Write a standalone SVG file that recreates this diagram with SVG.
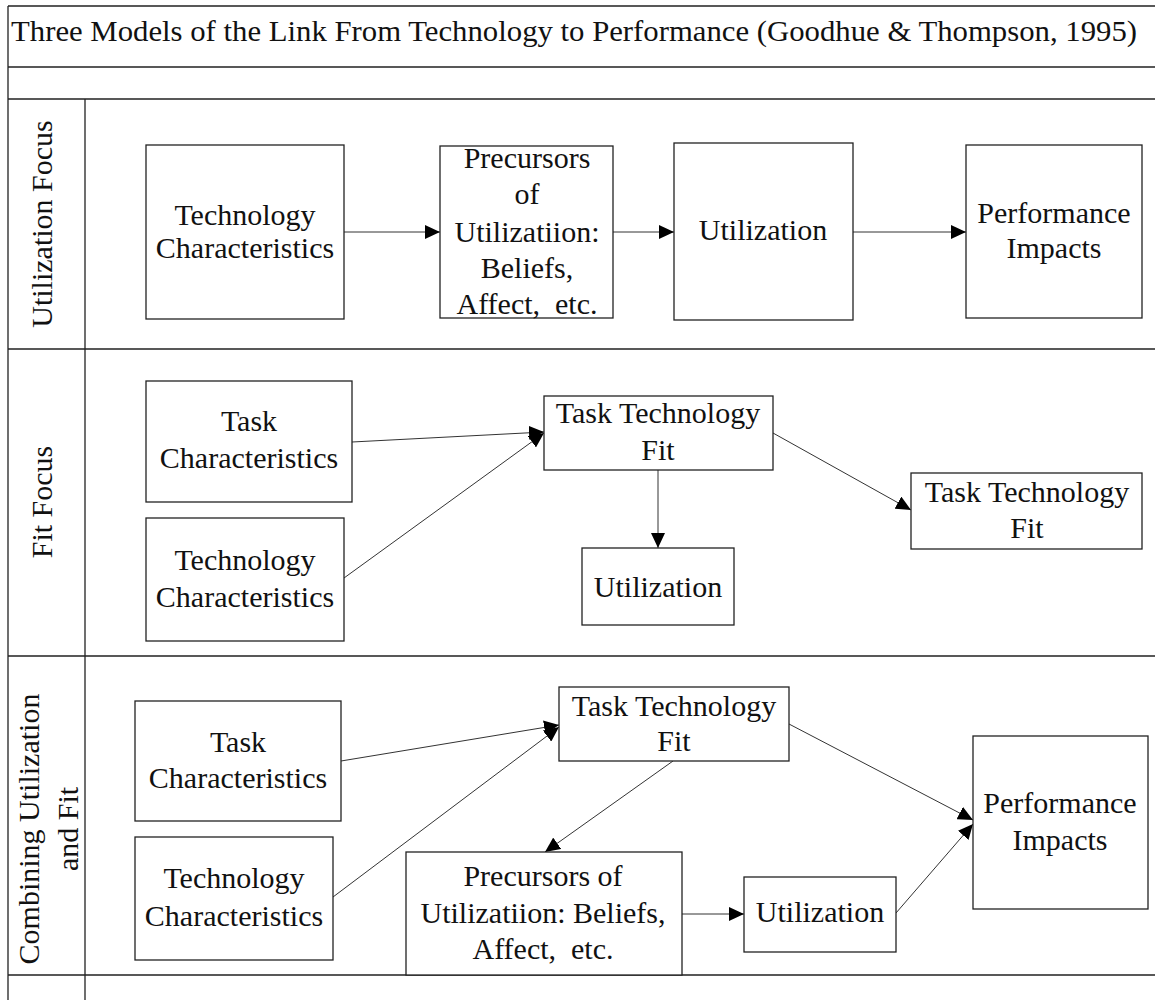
<svg xmlns="http://www.w3.org/2000/svg" width="1155" height="1000" viewBox="0 0 1155 1000">
  <style>
    .grid { stroke: #222; stroke-width: 1.3; fill: none; }
    .box { fill: #fff; stroke: #222; stroke-width: 1.3; }
    .lbl { font-family: "Liberation Serif", "Times New Roman", serif; font-size: 30px; fill: #111; text-anchor: middle; }
    .title { font-family: "Liberation Serif", "Times New Roman", serif; font-size: 29px; fill: #111; }
    .edge { stroke: #333; stroke-width: 1; fill: none; marker-end: url(#arr); }
  </style>
  <defs>
    <marker id="arr" markerUnits="userSpaceOnUse" markerWidth="16" markerHeight="14" refX="15" refY="7" orient="auto">
      <path d="M0,0 L15,7 L0,14 Z" fill="#000"/>
    </marker>
  </defs>
  <rect width="1155" height="1000" fill="#fff"/>

  <!-- table frame -->
  <g id="table">
    <path class="grid" d="M8,6 H1155 M8,67 H1155 M8,99 H1155 M8,349 H1155 M8,656 H1155 M8,975 H1155 M8,6 V1000 M85,99 V1000"/>
    <text class="title" x="11" y="41" textLength="1126" lengthAdjust="spacingAndGlyphs">Three Models of the Link From Technology to Performance (Goodhue &amp; Thompson, 1995)</text>
    <text class="lbl" transform="translate(52,224) rotate(-90)">Utilization Focus</text>
    <text class="lbl" transform="translate(52,502) rotate(-90)">Fit Focus</text>
    <text class="lbl" transform="translate(39,829) rotate(-90)">Combining Utilization</text>
    <text class="lbl" transform="translate(78,829) rotate(-90)">and Fit</text>
  </g>

  <!-- connectors -->
  <g id="connectors">
    <line class="edge" x1="344" y1="232" x2="440" y2="232"/>
    <line class="edge" x1="613" y1="232" x2="674" y2="232"/>
    <line class="edge" x1="853" y1="232" x2="966" y2="232"/>

    <line class="edge" x1="352" y1="442" x2="544" y2="432"/>
    <line class="edge" x1="344" y1="578" x2="544" y2="433"/>
    <line class="edge" x1="658" y1="470" x2="658" y2="548"/>
    <line class="edge" x1="773" y1="433" x2="911" y2="510"/>

    <line class="edge" x1="341" y1="761" x2="559" y2="725"/>
    <line class="edge" x1="333" y1="897" x2="559" y2="727"/>
    <line class="edge" x1="673" y1="761" x2="545" y2="852"/>
    <line class="edge" x1="682" y1="914" x2="744" y2="914"/>
    <line class="edge" x1="789" y1="724" x2="973" y2="820"/>
    <line class="edge" x1="896" y1="913" x2="973" y2="824"/>
  </g>

  <!-- Utilization focus -->
  <g id="u-tech">
    <rect class="box" x="146" y="145" width="198" height="174"/>
    <text class="lbl" x="245" y="225">Technology</text>
    <text class="lbl" x="245" y="258">Characteristics</text>
  </g>
  <g id="u-prec">
    <rect class="box" x="440" y="146" width="173" height="172"/>
    <text class="lbl" x="527" y="168">Precursors</text>
    <text class="lbl" x="527" y="204">of</text>
    <text class="lbl" x="527" y="242">Utilizatiion:</text>
    <text class="lbl" x="527" y="278">Beliefs,</text>
    <text class="lbl" x="527" y="314" xml:space="preserve">Affect,  etc.</text>
  </g>
  <g id="u-util">
    <rect class="box" x="674" y="143" width="179" height="177"/>
    <text class="lbl" x="763" y="240">Utilization</text>
  </g>
  <g id="u-perf">
    <rect class="box" x="966" y="145" width="176" height="173"/>
    <text class="lbl" x="1054" y="223">Performance</text>
    <text class="lbl" x="1054" y="258">Impacts</text>
  </g>

  <!-- Fit focus -->
  <g id="f-task">
    <rect class="box" x="146" y="381" width="206" height="121"/>
    <text class="lbl" x="249" y="431">Task</text>
    <text class="lbl" x="249" y="468">Characteristics</text>
  </g>
  <g id="f-tech">
    <rect class="box" x="146" y="518" width="198" height="123"/>
    <text class="lbl" x="245" y="570">Technology</text>
    <text class="lbl" x="245" y="607">Characteristics</text>
  </g>
  <g id="f-ttf">
    <rect class="box" x="544" y="396" width="229" height="74"/>
    <text class="lbl" x="658" y="423">Task Technology</text>
    <text class="lbl" x="658" y="460">Fit</text>
  </g>
  <g id="f-util">
    <rect class="box" x="582" y="548" width="152" height="77"/>
    <text class="lbl" x="658" y="597">Utilization</text>
  </g>
  <g id="f-ttf2">
    <rect class="box" x="911" y="473" width="231" height="76"/>
    <text class="lbl" x="1027" y="502">Task Technology</text>
    <text class="lbl" x="1027" y="538">Fit</text>
  </g>

  <!-- Combining utilization and fit -->
  <g id="c-task">
    <rect class="box" x="135" y="701" width="206" height="120"/>
    <text class="lbl" x="238" y="752">Task</text>
    <text class="lbl" x="238" y="788">Characteristics</text>
  </g>
  <g id="c-tech">
    <rect class="box" x="135" y="837" width="198" height="123"/>
    <text class="lbl" x="234" y="888">Technology</text>
    <text class="lbl" x="234" y="926">Characteristics</text>
  </g>
  <g id="c-ttf">
    <rect class="box" x="559" y="687" width="230" height="74"/>
    <text class="lbl" x="674" y="716">Task Technology</text>
    <text class="lbl" x="674" y="751">Fit</text>
  </g>
  <g id="c-prec">
    <rect class="box" x="406" y="852" width="276" height="123"/>
    <text class="lbl" x="543" y="886">Precursors of</text>
    <text class="lbl" x="543" y="923">Utilizatiion: Beliefs,</text>
    <text class="lbl" x="543" y="959" xml:space="preserve">Affect,  etc.</text>
  </g>
  <g id="c-util">
    <rect class="box" x="744" y="877" width="152" height="75"/>
    <text class="lbl" x="820" y="922">Utilization</text>
  </g>
  <g id="c-perf">
    <rect class="box" x="973" y="736" width="175" height="173"/>
    <text class="lbl" x="1060" y="813">Performance</text>
    <text class="lbl" x="1060" y="850">Impacts</text>
  </g>
</svg>
